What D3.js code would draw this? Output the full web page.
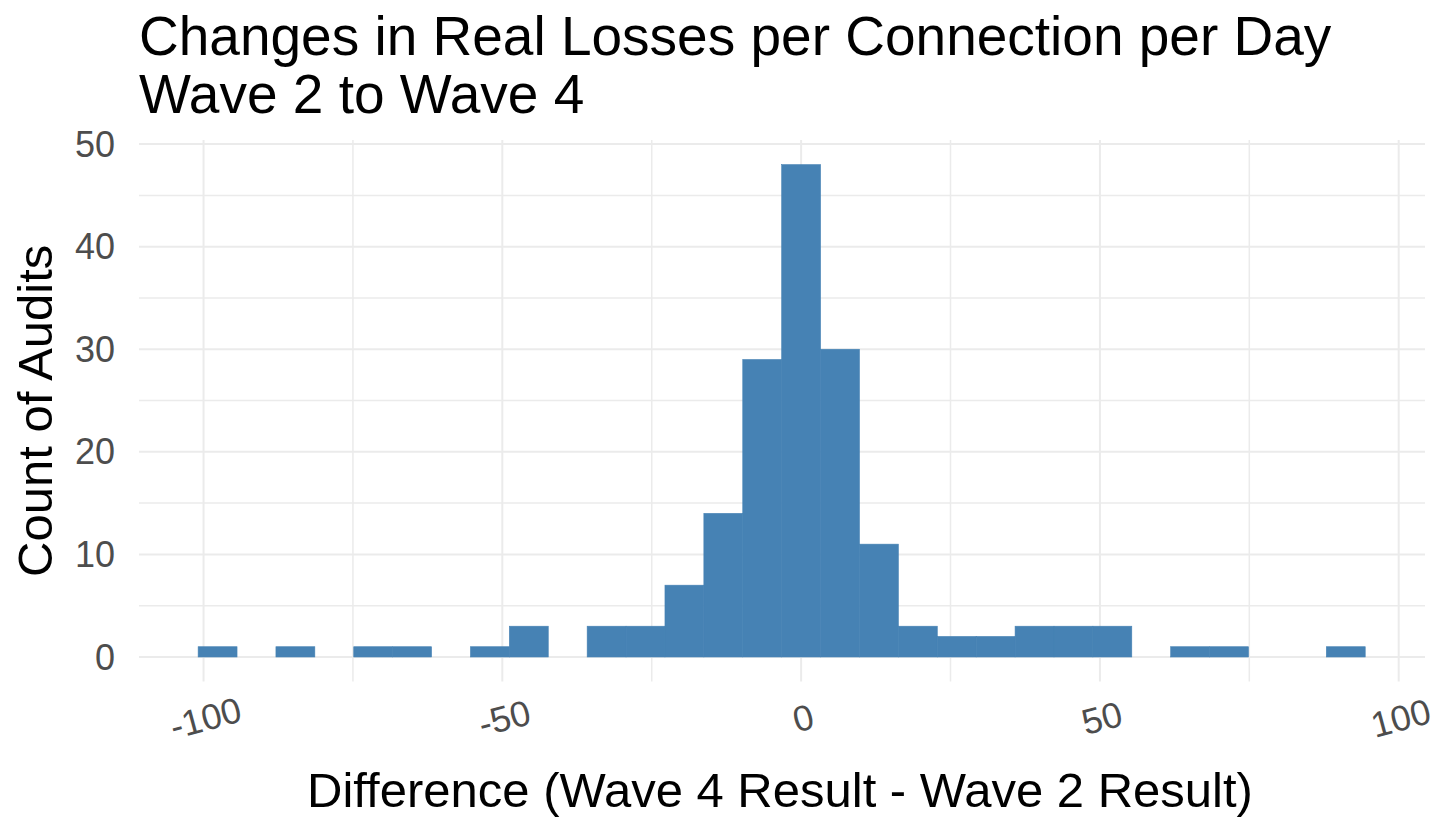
<!DOCTYPE html>
<html>
<head>
<meta charset="utf-8">
<script src="https://cdn.jsdelivr.net/npm/d3@7"></script>
<style>
  body { margin: 0; background: #fff; }
  text { font-family: "Liberation Sans", Arial, sans-serif; }
</style>
</head>
<body>
<div id="chart"></div>
<script>
// histogram bins (centre of each bin, width 6.51) and counts
const binWidth = 6.51
const binCenters = [-97.65, -91.14, -84.63, -78.12, -71.61, -65.1, -58.59, -52.08, -45.57, -39.06,
                    -32.55, -26.04, -19.53, -13.02, -6.51, 0, 6.51, 13.02, 19.53, 26.04,
                    32.55, 39.06, 45.57, 52.08, 58.59, 65.1, 71.61, 78.12, 84.63, 91.14]
const counts = [1, 0, 1, 0, 1, 1, 0, 1, 3, 0,
                3, 3, 7, 14, 29, 48, 30, 11, 3, 2,
                2, 3, 3, 3, 0, 1, 1, 0, 0, 1]
const xTicks = [-100, -50, 0, 50, 100]
const xMinor = [-75, -25, 25, 75]
const yTicks = [0, 10, 20, 30, 40, 50]
const yMinor = [5, 15, 25, 35, 45]

const titleLines = ["Changes in Real Losses per Connection per Day", "Wave 2 to Wave 4"]
const xTitle = "Difference (Wave 4 Result - Wave 2 Result)"
const yTitle = "Count of Audits"

const width = 1439, height = 819
const panel = {left: 139, right: 1425, top: 140, bottom: 681.6}

const data = binCenters.map((c, i) => ({x0: c - binWidth / 2, x1: c + binWidth / 2, n: counts[i]}))

const x = d3.scaleLinear().domain([-110.8, 104.4]).range([panel.left, panel.right])
const y = d3.scaleLinear().domain([-2.4, 50.4]).range([panel.bottom, panel.top])

const svg = d3.select("#chart").append("svg")
    .attr("width", width)
    .attr("height", height)

// grid
const grid = svg.append("g")
grid.selectAll(".hminor").data(yMinor).enter().append("line")
    .attr("x1", panel.left).attr("x2", panel.right)
    .attr("y1", d => y(d)).attr("y2", d => y(d))
    .attr("stroke", "#ebebeb").attr("stroke-width", 1.5)
grid.selectAll(".vminor").data(xMinor).enter().append("line")
    .attr("y1", panel.top).attr("y2", panel.bottom)
    .attr("x1", d => x(d)).attr("x2", d => x(d))
    .attr("stroke", "#ebebeb").attr("stroke-width", 1.5)
grid.selectAll(".hmajor").data(yTicks).enter().append("line")
    .attr("x1", panel.left).attr("x2", panel.right)
    .attr("y1", d => y(d)).attr("y2", d => y(d))
    .attr("stroke", "#ebebeb").attr("stroke-width", 2)
grid.selectAll(".vmajor").data(xTicks).enter().append("line")
    .attr("y1", panel.top).attr("y2", panel.bottom)
    .attr("x1", d => x(d)).attr("x2", d => x(d))
    .attr("stroke", "#ebebeb").attr("stroke-width", 2)

// bars
svg.append("g").selectAll("rect")
    .data(data.filter(d => d.n > 0))
  .enter().append("rect")
    .attr("x", d => x(d.x0))
    .attr("width", d => x(d.x1) - x(d.x0))
    .attr("y", d => y(d.n))
    .attr("height", d => y(0) - y(d.n))
    .attr("fill", "#4682b4")
    .attr("stroke", "#4682b4")
    .attr("stroke-width", 0.6)

// y tick labels
svg.append("g").selectAll("text")
    .data(yTicks)
  .enter().append("text")
    .text(d => d)
    .attr("x", 115)
    .attr("y", d => y(d))
    .attr("dy", "0.35em")
    .attr("text-anchor", "end")
    .attr("font-size", 36)
    .attr("fill", "#4d4d4d")

// x tick labels, slightly rotated
svg.append("g").selectAll("text")
    .data(xTicks)
  .enter().append("text")
    .text(d => d)
    .attr("transform", d => "translate(" + (x(d) + 2) + ",718) rotate(-15)")
    .attr("dy", "0.35em")
    .attr("text-anchor", "middle")
    .attr("font-size", 36)
    .attr("fill", "#4d4d4d")

// titles
svg.append("g").selectAll("text")
    .data(titleLines)
  .enter().append("text")
    .text(d => d)
    .attr("x", 139)
    .attr("y", (d, i) => 55 + i * 58)
    .attr("font-size", 55)
    .attr("fill", "#000")

svg.append("text")
    .text(xTitle)
    .attr("x", (panel.left + panel.right) / 2 - 2)
    .attr("y", 807)
    .attr("text-anchor", "middle")
    .attr("font-size", 49)
    .attr("fill", "#000")

svg.append("text")
    .text(yTitle)
    .attr("transform", "translate(52," + ((panel.top + panel.bottom) / 2) + ") rotate(-90)")
    .attr("text-anchor", "middle")
    .attr("font-size", 49)
    .attr("fill", "#000")
</script>
</body>
</html>
